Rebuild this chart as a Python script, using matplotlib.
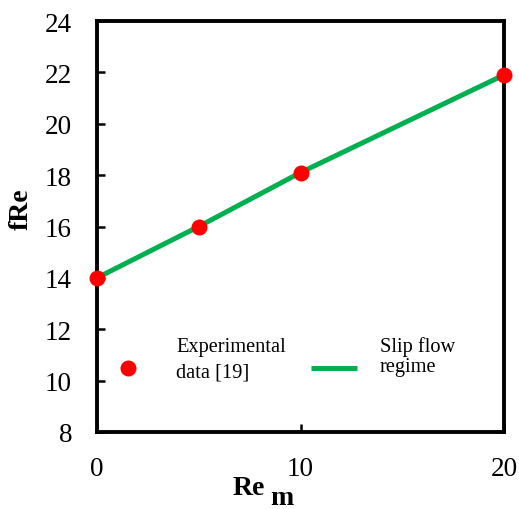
import matplotlib
matplotlib.use("Agg")
import matplotlib.pyplot as plt

# data
exp_x = [0, 5, 10, 20]
exp_y = [14.0, 16.0, 18.1, 21.9]
slip_x = [0, 5, 10, 15, 20]
slip_y = [14.0, 16.0, 18.1, 20.0, 21.9]
x_ticks = [0, 10, 20]
y_ticks = [8, 10, 12, 14, 16, 18, 20, 22, 24]

plt.rcParams['font.family'] = ['Liberation Serif', 'DejaVu Serif']

W, H = 519, 510
fig = plt.figure(figsize=(W / 100, H / 100), dpi=100)
ax = fig.add_axes([97 / W, (H - 433) / H, 407 / W, 411 / H])

line, = ax.plot(slip_x, slip_y, color='#00B050', lw=3.6, zorder=2,
                solid_capstyle='butt')
pts, = ax.plot(exp_x, exp_y, 'o', color='#FF0000', ms=11.5, mec='none',
               zorder=3, clip_on=False)

ax.set_xlim(0, 20)
ax.set_ylim(8, 24)
ax.set_xticks(x_ticks)
ax.set_yticks(y_ticks)
ax.tick_params(direction='in', length=6, width=1.8, labelsize=19.5, pad=17)
ax.tick_params(axis='y', pad=18)
for s in ax.spines.values():
    s.set_linewidth(2.8)

# legend keys only, labels written next to them
leg1 = ax.legend([pts], [''], loc='center', bbox_to_anchor=(0.0762, 0.1485),
                 frameon=False, fontsize=14.7, borderpad=0, borderaxespad=0,
                 handlelength=1.0, handletextpad=0, numpoints=1)
ax.add_artist(leg1)
ax.legend([line], [''], loc='center', bbox_to_anchor=(0.582, 0.1485),
          frameon=False, fontsize=14.7, borderpad=0, borderaxespad=0,
          handlelength=2.25, handletextpad=0)
ax.text(0.194, 0.134, 'Experimental\ndata [19]', transform=ax.transAxes,
        fontsize=14.7, va='baseline', ha='left', linespacing=1.5)
ax.text(0.695, 0.148, 'Slip flow\nregime', transform=ax.transAxes,
        fontsize=14.7, va='baseline', ha='left', linespacing=1.1)

# axis labels
fig.text(21 / W, 1 - 209 / H, 'fRe', rotation=90, ha='center', va='center',
         fontsize=20, fontweight='bold')
fig.text(233 / W, 1 - 495 / H, 'Re', ha='left', va='baseline',
         fontsize=20, fontweight='bold')
fig.text(270 / W, 1 - 505 / H, 'm', ha='left', va='baseline',
         fontsize=20, fontweight='bold')

fig.savefig('out.png', dpi=100)
